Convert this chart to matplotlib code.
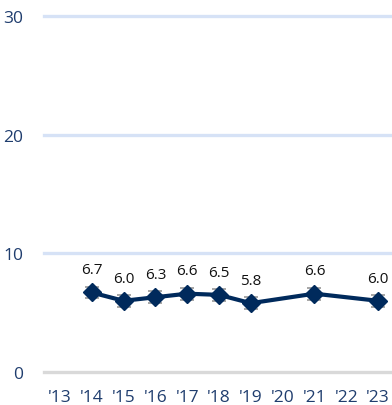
import numpy as np
import matplotlib.pyplot as plt

# Year labels on the x axis and the measured values (gaps for missing years)
years = ["'13", "'14", "'15", "'16", "'17", "'18", "'19", "'20", "'21", "'22", "'23"]
data_years = ["'14", "'15", "'16", "'17", "'18", "'19", "'21", "'23"]
values = [6.7, 6.0, 6.3, 6.6, 6.5, 5.8, 6.6, 6.0]
errors = [0.5, 0.5, 0.5, 0.5, 0.5, 0.5, 0.5, 0.5]
y_ticks = [0, 10, 20, 30]

navy = "#002A5C"
tick_color = "#1F3D6E"

plt.rcParams["font.family"] = ["Open Sans", "DejaVu Sans"]

fig = plt.figure(figsize=(3.92, 4.06), dpi=100)
ax = fig.add_axes([44 / 392, 33 / 406, 350 / 392, 356 / 406])

x_pos = [years.index(y) for y in data_years]

# light horizontal gridlines, grey baseline at zero
for yt in y_ticks:
    c = "#D9D9D9" if yt == 0 else "#D6E2F6"
    ax.axhline(yt, color=c, linewidth=2.4, zorder=0, clip_on=False)

ax.errorbar(x_pos, values, yerr=errors, fmt="none", ecolor="#A6A6A6",
            elinewidth=1.2, capsize=5, capthick=1.4, zorder=2)
ax.plot(x_pos, values, color=navy, linewidth=3, marker="D", markersize=9.5,
        zorder=3)

for x, v in zip(x_pos, values):
    ax.annotate(f"{v:.1f}", (x, v), xytext=(0, 11), textcoords="offset points",
                ha="center", va="bottom", fontsize=11, color="#111111")

ax.set_xlim(-0.5, len(years) - 0.5)
ax.set_ylim(0, 30)
ax.set_xticks(range(len(years)))
ax.set_xticklabels(years)
ax.set_yticks(y_ticks)
ax.tick_params(axis="both", length=0, labelsize=12.5, colors=tick_color)
ax.tick_params(axis="y", pad=15)
ax.tick_params(axis="x", pad=12)
for s in ax.spines.values():
    s.set_visible(False)

fig.savefig("out.png", dpi=100)
